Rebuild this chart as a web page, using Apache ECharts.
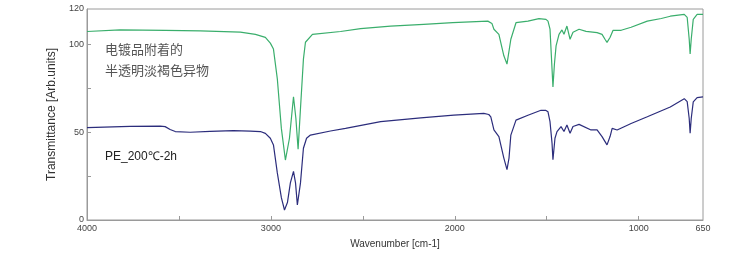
<!DOCTYPE html>
<html>
<head>
<meta charset="utf-8">
<script src="https://cdn.jsdelivr.net/npm/echarts@6/dist/echarts.min.js"></script>
<style>
html,body{margin:0;padding:0;background:#fff;}
#chart{width:756px;height:254px;}
</style>
</head>
<body>
<div id="chart"></div>
<script>
// Upper (green) spectrum: wavenumber [cm-1] and transmittance
const wnUpper = [4000,3820,3575,3384,3166,3084,3030,3003,2986,2965,2943,2921,2899,2877,2864,2852,2839,2823,2812,2774,2621,2512,2349,2169,2011,1820,1798,1787,1760,1733,1716,1695,1667,1602,1542,1504,1493,1482,1471,1466,1458,1449,1433,1417,1406,1390,1373,1357,1324,1286,1226,1199,1183,1172,1155,1139,1095,1041,953,877,828,752,736,725,720,714,703,682,650];
const tUpper  = [107.2,108.1,107.9,107.6,106.8,105.6,103.9,100.6,97.2,80.3,52.1,34.1,46.5,70.1,57.7,40.3,63.4,91.5,101.1,105.6,107.2,108.8,110.3,111.3,112.2,113.1,111.8,108.5,105.6,93.4,88.7,102.8,112.2,113.1,114.5,114.1,113.1,108.5,85.9,75.6,88.7,99.0,105.6,108.1,105.6,110.3,102.8,106.8,108.5,107.3,106.6,105.6,102.8,101.0,103.9,107.9,107.9,109.6,113.1,114.6,115.9,116.9,115.2,102.8,94.4,102.8,114.1,116.9,116.9];

// Lower (navy) spectrum: PE_200℃-2h
const wnLower = [4000,3766,3602,3575,3548,3520,3439,3330,3204,3112,3057,3030,3003,2986,2965,2943,2926,2910,2894,2877,2866,2856,2839,2823,2806,2785,2676,2594,2403,2185,2005,1842,1815,1804,1787,1760,1733,1716,1705,1695,1667,1602,1531,1504,1493,1482,1471,1466,1455,1444,1422,1406,1390,1373,1357,1324,1259,1226,1199,1172,1155,1144,1117,1041,953,828,752,736,725,720,714,703,682,650];
const tLower  = [52.5,53.2,53.4,53.1,51.5,50.3,49.9,50.4,50.8,50.6,50.3,49.3,46.5,42.7,26.8,12.7,5.7,9.9,21.1,27.7,21.1,8.6,21.1,40.8,46.5,48.3,50.6,52.1,55.9,58.1,59.6,60.6,60.0,58.7,51.2,47.4,35.2,28.6,35.2,48.3,56.8,59.6,62.4,62.3,61.5,55.9,43.7,34.3,46.5,50.3,53.1,50.3,54.0,49.3,53.2,54.4,51.2,51.2,47.4,42.7,47.6,52.1,51.2,54.9,58.7,64.3,69.0,67.3,57.7,49.3,57.7,67.2,69.6,70.0];

// Axis ticks / labels
const xLabelValues = [4000,3000,2000,1000,650];
const xTickValues  = [3500,3000,2500,2000,1500,1000];
const yLabelValues = [0,50,100,120];
const yTickValues  = [25,50,75,100];

const upperLabel = ['电镀品附着的','半透明淡褐色异物'];
const lowerLabel = 'PE_200℃-2h';

const pair = (xs, ys) => xs.map((x, i) => [x, ys[i]]);

const chart = echarts.init(document.getElementById('chart'));
const axisGray = '#9a9a9a';
const labelFont = {color:'#444', fontSize:9, fontFamily:'Liberation Sans, Arial, sans-serif'};

chart.setOption({
  animation:false,
  backgroundColor:'#fff',
  grid:{left:87, right:53, top:9, bottom:32, show:true, borderColor:axisGray, borderWidth:1},
  xAxis:{
    type:'value', min:650, max:4000, inverse:true,
    name:'Wavenumber [cm-1]', nameLocation:'middle', nameGap:19,
    nameTextStyle:{color:'#333', fontSize:10, fontFamily:'Liberation Sans, Arial, sans-serif'},
    axisLine:{show:true, lineStyle:{color:axisGray, width:1}},
    axisTick:{show:true, inside:true, length:4, customValues:xTickValues, lineStyle:{color:axisGray}},
    axisLabel:Object.assign({customValues:xLabelValues, margin:4, formatter:v => String(v)}, labelFont),
    splitLine:{show:false}
  },
  yAxis:{
    type:'value', min:0, max:120,
    name:'Transmittance [Arb.units]', nameLocation:'middle', nameGap:26,
    nameTextStyle:{color:'#333', fontSize:12, fontFamily:'Liberation Sans, Arial, sans-serif'},
    axisLine:{show:true, lineStyle:{color:axisGray, width:1}},
    axisTick:{show:true, inside:true, length:4, customValues:yTickValues, lineStyle:{color:axisGray}},
    axisLabel:Object.assign({customValues:yLabelValues, margin:3, formatter:v => String(v)}, labelFont),
    splitLine:{show:false}
  },
  series:[
    {type:'line', data:pair(wnUpper,tUpper), showSymbol:false, smooth:false,
     lineStyle:{color:'#3aae6c', width:1.2}, z:3},
    {type:'line', data:pair(wnLower,tLower), showSymbol:false, smooth:false,
     lineStyle:{color:'#2c2d7c', width:1.2}, z:3}
  ],
  graphic:[
    {type:'text', left:105, top:43, style:{text:upperLabel[0], fill:'#555', font:'13px "Noto Sans CJK SC", sans-serif'}},
    {type:'text', left:105, top:64, style:{text:upperLabel[1], fill:'#555', font:'13px "Noto Sans CJK SC", sans-serif'}},
    {type:'text', left:105, top:151, style:{text:lowerLabel, fill:'#222', font:'12px "Liberation Sans", Arial, sans-serif'}}
  ]
});
</script>
</body>
</html>
